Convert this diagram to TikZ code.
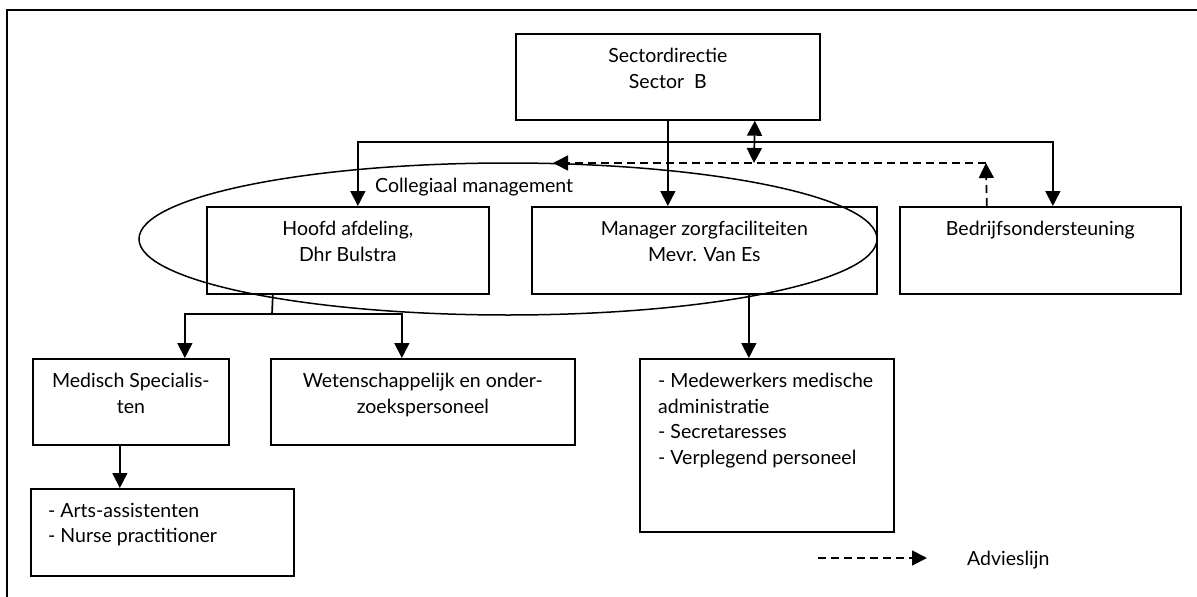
\documentclass[tikz,border=0pt]{standalone}
\usepackage{fontspec}
\setmainfont{Lato}
\usetikzlibrary{arrows.meta,shapes.geometric,calc}
\tikzset{
  box/.style={draw, line width=1.7pt, anchor=north west, inner sep=0pt},
  txt/.style={inner sep=0pt, align=center, font=\fontsize{19.5}{25.5}\selectfont, anchor=north},
  ltxt/.style={inner sep=0pt, align=left, font=\fontsize{19.5}{25.5}\selectfont, anchor=north west},
  conn/.style={line width=1.7pt},
  arr/.style={conn, -{Triangle[width=15pt,length=15pt]}},
  darr/.style={conn, {Triangle[width=15pt,length=15pt]}-{Triangle[width=15pt,length=15pt]}},
  adv/.style={arr, dash pattern=on 8pt off 5pt},
}
\begin{document}
\begin{tikzpicture}[x=1pt,y=-1pt]
\useasboundingbox (0,0) rectangle (1197,597);
% frame
\coordinate (fbl) at (7,597);
\coordinate (ftl) at (7,10);
\coordinate (ftr) at (1197,10);
\draw[line width=1.8pt] (fbl) -- (ftl) -- (ftr);

% boxes
\node[box, minimum width=304pt, minimum height=86pt] (sector) at (515,33) {};
\node[box, minimum width=282pt, minimum height=87pt] (hoofd) at (206,206) {};
\node[box, minimum width=345pt, minimum height=87pt] (mgr) at (531,206) {};
\node[box, minimum width=281pt, minimum height=87pt] (bedr) at (899,206) {};
\node[box, minimum width=196pt, minimum height=86pt] (med) at (32,358) {};
\node[box, minimum width=304pt, minimum height=86pt] (wet) at (270,358) {};
\node[box, minimum width=254pt, minimum height=173pt] (mw) at (639,358) {};
\node[box, minimum width=263pt, minimum height=87pt] (arts) at (30,488) {};

% texts
\node[txt] (tsector) at ([yshift=-15pt]sector.north) {Sectordirectie\\Sector~ B};
\node[txt] (thoofd) at ([yshift=-15pt]hoofd.north) {Hoofd afdeling,\\Dhr Bulstra};
\node[txt] (tmgr) at ([yshift=-15pt]mgr.north) {Manager zorgfaciliteiten\\Mevr. Van Es};
\node[txt] (tbedr) at ([yshift=-15pt]bedr.north) {Bedrijfsondersteuning};
\node[txt] (tmed) at ([yshift=-15pt]med.north) {Medisch Specialis-\\ten};
\node[txt] (twet) at ([yshift=-15pt]wet.north) {Wetenschappelijk en onder-\\zoekspersoneel};
\node[ltxt] (tmw) at ([xshift=19pt,yshift=-15pt]mw.north west) {- Medewerkers medische\\administratie\\- Secretaresses\\- Verplegend personeel};
\node[ltxt] (tarts) at ([xshift=18pt,yshift=-15pt]arts.north west) {- Arts-assistenten\\- Nurse practitioner};

% collegiaal management ellipse
\node[draw, ellipse, line width=1.5pt, minimum width=738pt, minimum height=152pt, inner sep=0pt] (ell) at (508,239) {};
\node[inner sep=0pt, anchor=base west, font=\fontsize{19.5}{25.5}\selectfont] (tcol) at (375,192) {Collegiaal management};

% connectors from sector
\coordinate (j1) at (667,142);
\draw[arr] (sector.south) -- (sector.south |- mgr.north);
\draw[arr] (j1) -| ([xshift=10pt]hoofd.north);
\draw[arr] (j1) -| ([xshift=12.5pt]bedr.north);

% advice line
\coordinate (dc) at (986,163);
\coordinate (dl) at (553,163);
\coordinate (dj) at (754,163);
\draw[adv] ([xshift=-53.5pt]bedr.north) -- (dc);
\draw[adv] (dc) -- (dl);
\draw[darr] ([xshift=87pt]sector.south) -- (dj);

% hoofd to children
\coordinate (j2) at (272,314);
\draw[conn] ([xshift=-75pt]hoofd.south) -- (j2);
\draw[arr] (j2) -| ([xshift=54pt]med.north);
\draw[arr] (j2) -| ([xshift=-21pt]wet.north);

% manager to medewerkers
\draw[arr] ([xshift=44.5pt]mgr.south) -- ([xshift=44.5pt]mgr.south |- mw.north);

% medisch to arts
\draw[arr] ([xshift=-11pt]med.south) -- ([xshift=-11pt]med.south |- arts.north);

% legend
\coordinate (la) at (818,558);
\coordinate (lb) at (927,558);
\draw[adv] (la) -- (lb);
\node[inner sep=0pt, anchor=base west, font=\fontsize{19.5}{25.5}\selectfont] (tadv) at (967,565) {Advieslijn};
\end{tikzpicture}
\end{document}
